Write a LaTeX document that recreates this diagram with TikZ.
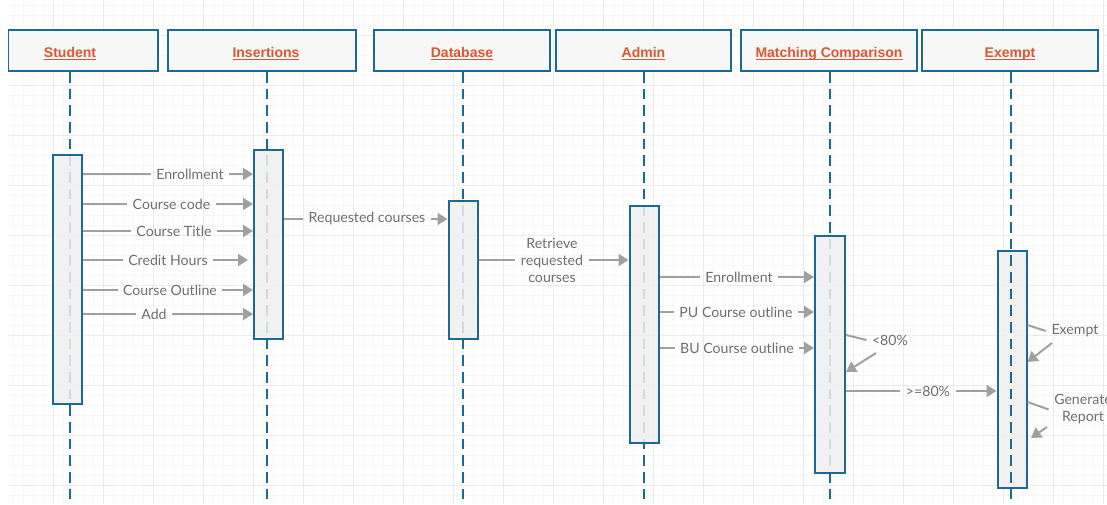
\documentclass[tikz,border=0pt]{standalone}
\usepackage{fontspec}
\setmainfont{Lato}
\newfontfamily\headfont{Liberation Sans}
\usetikzlibrary{arrows.meta}

\definecolor{lineblue}{HTML}{1B6A93}
\definecolor{headred}{HTML}{DE5530}
\definecolor{msggrey}{HTML}{A0A0A0}
\definecolor{txtgrey}{HTML}{6E6E6E}
\definecolor{gridminor}{HTML}{F7F7F7}
\definecolor{gridmajor}{HTML}{EBEBEB}
\definecolor{headfill}{HTML}{F7F7F7}
\definecolor{actfill}{HTML}{EFEFEF}

% underlined header title with a fixed rule position
\newcommand\hlink[1]{\setbox0\hbox{#1}\rlap{\rule[-2.4pt]{\wd0}{0.7pt}}\box0}

\tikzset{
  head/.style={draw=lineblue, line width=1.5pt, fill=headfill,
    minimum height={41*0.75pt}, inner sep=0pt, text height=11pt, text depth=1.2pt,
    font=\headfont\bfseries\fontsize{10.5}{12}\selectfont, text=headred},
  lifeline/.style={draw=lineblue, line width=1.5pt, dash pattern=on 8pt off 4.5pt},
  actbox/.style={draw=lineblue, line width=1.5pt, fill=actfill, fill opacity=0.85,
    minimum width={29*0.75pt}, inner sep=0pt},
  msg/.style={draw=msggrey, line width=1.5pt, -{Triangle[length=7.5pt,width=9pt]}},
  plainline/.style={draw=msggrey, line width=1.5pt},
  lbl/.style={text=txtgrey, font=\fontsize{10.6}{12.75}\selectfont,
    inner sep=1pt, outer sep=3.2pt, align=center},
}

\begin{document}
\begin{tikzpicture}[x=0.75pt, y=-0.75pt]
\useasboundingbox (0,0) rectangle (1107,504);
\clip (8,0) rectangle (1107,504);

% background grid
\foreach \gx in {3,13,...,1103} \draw[gridminor, line width=0.5pt] (\gx,0) -- (\gx,504);
\foreach \gy in {5,15,...,505} \draw[gridminor, line width=0.5pt] (0,\gy) -- (1107,\gy);
\foreach \gx in {3,53,...,1103} \draw[gridmajor, line width=0.6pt] (\gx,0) -- (\gx,504);
\foreach \gy in {35,85,...,485} \draw[gridmajor, line width=0.6pt] (0,\gy) -- (1107,\gy);

% lifeline positions
\coordinate (xS) at (70,0);
\coordinate (xI) at (267,0);
\coordinate (xD) at (463,0);
\coordinate (xA) at (644,0);
\coordinate (xM) at (830,0);
\coordinate (xE) at (1011,0);

% participants
\node[head, minimum width={150*0.75pt}] (hS) at (83,50.5) {\hlink{Student}\kern19.5pt};
\node[head, minimum width={188*0.75pt}] (hI) at (262,50.5) {\kern6pt\hlink{Insertions}};
\node[head, minimum width={176*0.75pt}] (hD) at (462,50.5) {\hlink{Database}};
\node[head, minimum width={175*0.75pt}] (hA) at (643.5,50.5) {\hlink{Admin}};
\node[head, minimum width={176*0.75pt}] (hM) at (829,50.5) {\hlink{Matching Comparison}};
\node[head, minimum width={176*0.75pt}] (hE) at (1010,50.5) {\hlink{Exempt}};

% lifelines
\draw[lifeline] (hS.south -| xS) -- (xS |- 0,512);
\draw[lifeline] (hI.south -| xI) -- (xI |- 0,512);
\draw[lifeline] (hD.south -| xD) -- (xD |- 0,512);
\draw[lifeline] (hA.south -| xA) -- (xA |- 0,512);
\draw[lifeline] (hM.south -| xM) -- (xM |- 0,512);

% activation bars
\node[actbox, minimum height={249*0.75pt}] (aS) at (67.5,279.5) {};
\node[actbox, minimum height={189*0.75pt}] (aI) at (268.5,244.5) {};
\node[actbox, minimum height={138*0.75pt}] (aD) at (xD |- 0,270) {};
\node[actbox, minimum height={237*0.75pt}] (aA) at (xA |- 0,324.5) {};
\node[actbox, minimum height={237*0.75pt}, minimum width={30*0.75pt}] (aM) at (xM |- 0,354.5) {};
\node[actbox, minimum height={237*0.75pt}] (aE) at (1012,369.5) {};
\draw[lifeline] (hE.south -| xE) -- (xE |- 0,512);

% Student -> Insertions
\node[lbl] (m1) at (190,174) {Enrollment};
\draw[plainline] (aS.east |- m1) -- (m1.west);
\draw[msg] (m1.east) -- (aI.west |- m1);

\node[lbl] (m2) at (171.5,204) {Course code};
\draw[plainline] (aS.east |- m2) -- (m2.west);
\draw[msg] (m2.east) -- (aI.west |- m2);

\node[lbl] (m3) at (174,231) {Course Title};
\draw[plainline] (aS.east |- m3) -- (m3.west);
\draw[msg] (m3.east) -- (aI.west |- m3);

\node[lbl] (m4) at (168,260) {Credit Hours};
\coordinate (c4) at (248,260);
\draw[plainline] (aS.east |- m4) -- (m4.west);
\draw[msg] (m4.east) -- (c4);

\node[lbl] (m5) at (170,290) {Course Outline};
\draw[plainline] (aS.east |- m5) -- (m5.west);
\draw[msg] (m5.east) -- (aI.west |- m5);

\node[lbl] (m6) at (154,314) {Add};
\draw[plainline] (aS.east |- m6) -- (m6.west);
\draw[msg] (m6.east) -- (aI.west |- m6);

% Insertions -> Database
\node[lbl] (m7) at (367,219) {Requested courses};
\draw[plainline] (aI.east |- m7) -- (m7.west);
\draw[msg] (m7.east) -- (aD.west |- m7);

% Database -> Admin
\node[lbl] (m8) at (552,260) {Retrieve\\requested\\courses};
\draw[plainline] (aD.east |- m8) -- (m8.west);
\draw[msg] (m8.east) -- (aA.west |- m8);

% Admin -> Matching Comparison
\node[lbl] (m9) at (739,277) {Enrollment};
\draw[plainline] (aA.east |- m9) -- (m9.west);
\draw[msg] (m9.east) -- (aM.west |- m9);

\node[lbl] (m10) at (736,312) {PU Course outline};
\draw[plainline] (aA.east |- m10) -- (m10.west);
\draw[msg] (m10.east) -- (aM.west |- m10);

\node[lbl] (m11) at (737,348) {BU Course outline};
\draw[plainline] (aA.east |- m11) -- (m11.west);
\draw[msg] (m11.east) -- (aM.west |- m11);

% self message on Matching Comparison
\node[lbl] (m12) at (890,340) {<80\%};
\coordinate (c12) at (876,353);
\draw[plainline] (aM.east |- 0,335) -- (m12.west);
\draw[msg] (c12) -- (aM.east |- 0,372);

% Matching Comparison -> Exempt
\node[lbl] (m13) at (928,391) {>=80\%};
\draw[plainline] (aM.east |- m13) -- (m13.west);
\draw[msg] (m13.east) -- (aE.west |- m13);

% self messages on Exempt
\node[lbl] (m14) at (1075,331) {Exempt};
\coordinate (c14) at (1052,343);
\draw[plainline] (aE.east |- 0,325) -- (m14.west);
\draw[msg] (c14) -- (aE.east |- 0,362);

\node[lbl] (m15) at (1083,409.5) {Generate\\Report};
\coordinate (c15) at (1047,427);
\coordinate (d15) at (1031,438);
\draw[plainline] (aE.east |- 0,402) -- (m15.west);
\draw[msg] (c15) -- (d15);
\end{tikzpicture}
\end{document}
